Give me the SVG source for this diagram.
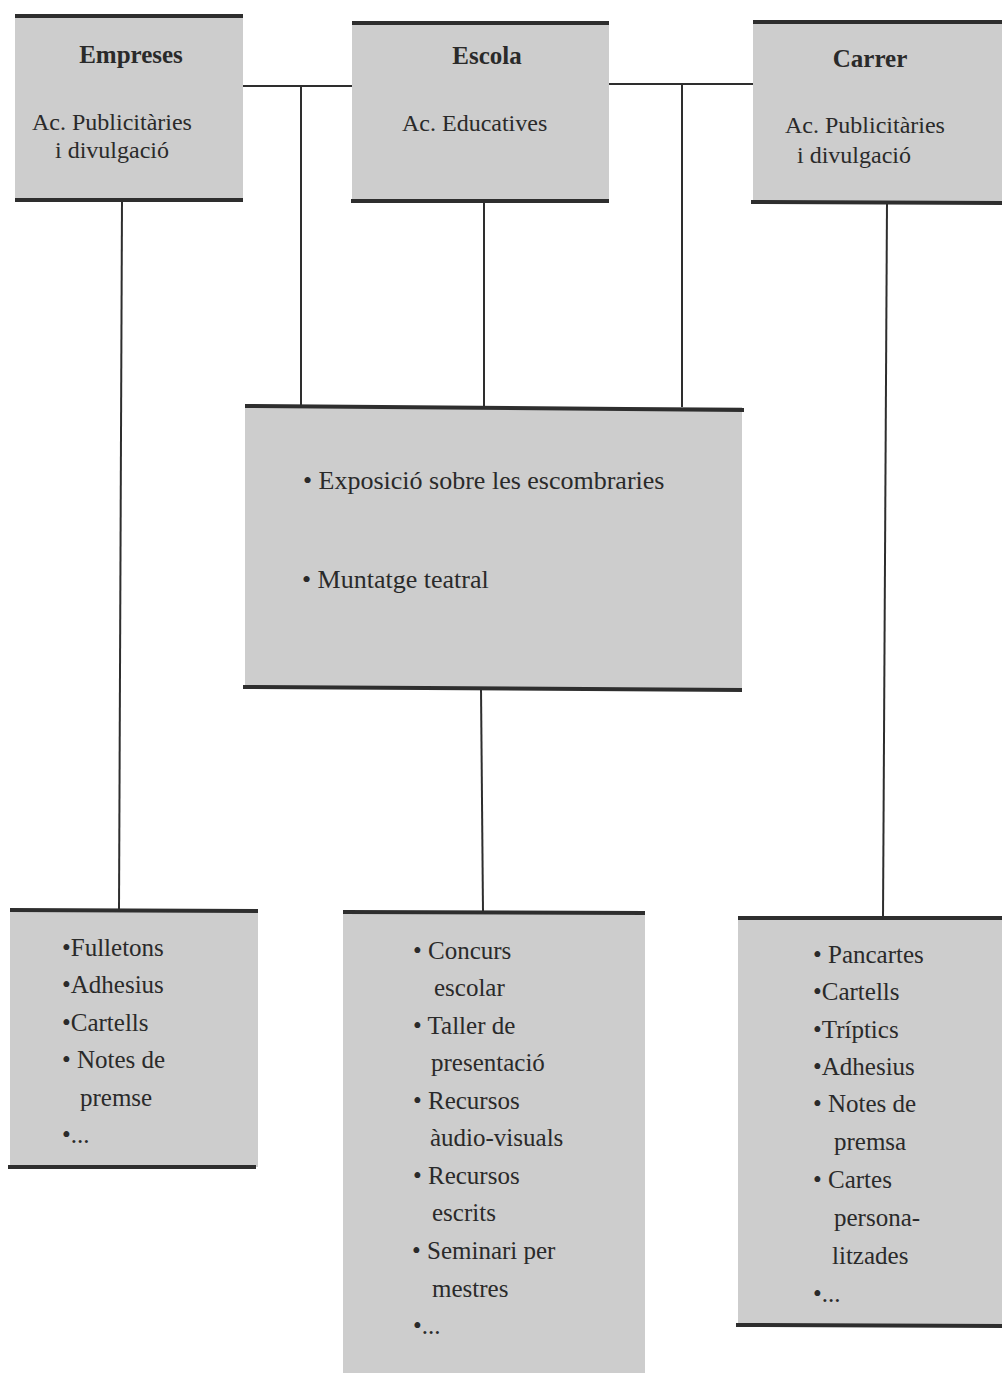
<svg xmlns="http://www.w3.org/2000/svg" width="1002" height="1373" viewBox="0 0 1002 1373">
<style>
.bg{fill:#ffffff}
.box{fill:#cdcdcd;stroke:none}
.edge{stroke:#2e2e2e;stroke-width:4;fill:none}
.conn{stroke:#2e2e2e;stroke-width:2;fill:none}
text{font-family:"Liberation Serif","Times New Roman",serif;fill:#2a2a2a}
.title{font-size:25px;font-weight:bold}
.sub{font-size:24px}
.big{font-size:26px}
.item{font-size:25px}
</style>
<rect class="bg" x="0" y="0" width="1002" height="1373"/>
<g id="connectors">
  <line class="conn" x1="243" y1="86" x2="352" y2="86"/>
  <line class="conn" x1="301" y1="86" x2="301" y2="407"/>
  <line class="conn" x1="609" y1="84" x2="753" y2="84"/>
  <line class="conn" x1="682" y1="84" x2="682" y2="409"/>
  <line class="conn" x1="484" y1="201" x2="484" y2="408"/>
  <line class="conn" x1="122" y1="200" x2="119" y2="910"/>
  <line class="conn" x1="887" y1="202" x2="883" y2="918"/>
  <line class="conn" x1="481" y1="689" x2="483" y2="912"/>
</g>
<g id="empreses">
  <rect class="box" x="15" y="16" width="228" height="184"/>
  <line class="edge" x1="15" y1="16" x2="243" y2="16"/>
  <line class="edge" x1="15" y1="200" x2="243" y2="200"/>
  <text class="title" x="131" y="63" text-anchor="middle">Empreses</text>
  <text class="sub" x="32" y="130">Ac. Publicitàries</text>
  <text class="sub" x="55" y="158">i divulgació</text>
</g>
<g id="escola">
  <rect class="box" x="352" y="23" width="257" height="178"/>
  <line class="edge" x1="352" y1="23" x2="609" y2="23"/>
  <line class="edge" x1="351" y1="201" x2="609" y2="201"/>
  <text class="title" x="487" y="64" text-anchor="middle">Escola</text>
  <text class="sub" x="402" y="131">Ac. Educatives</text>
</g>
<g id="carrer">
  <rect class="box" x="753" y="22" width="249" height="180"/>
  <line class="edge" x1="753" y1="22" x2="1002" y2="22"/>
  <line class="edge" x1="751" y1="202" x2="1002" y2="203"/>
  <text class="title" x="870" y="67" text-anchor="middle">Carrer</text>
  <text class="sub" x="785" y="133">Ac. Publicitàries</text>
  <text class="sub" x="797" y="163">i divulgació</text>
</g>
<g id="central">
  <rect class="box" x="245" y="407" width="497" height="282"/>
  <line class="edge" x1="245" y1="406" x2="744" y2="410"/>
  <line class="edge" x1="243" y1="687" x2="742" y2="690"/>
  <text class="big" x="303" y="489">• Exposició sobre les escombraries</text>
  <text class="big" x="302" y="588">• Muntatge teatral</text>
</g>
<g id="empreses-list">
  <rect class="box" x="10" y="910" width="248" height="257"/>
  <line class="edge" x1="10" y1="910" x2="258" y2="911"/>
  <line class="edge" x1="8" y1="1167" x2="256" y2="1167"/>
  <text class="item" x="62" y="956">•Fulletons</text>
  <text class="item" x="62" y="993">•Adhesius</text>
  <text class="item" x="62" y="1031">•Cartells</text>
  <text class="item" x="62" y="1068">• Notes de</text>
  <text class="item" x="80" y="1106">premse</text>
  <text class="item" x="62" y="1143">•...</text>
</g>
<g id="escola-list">
  <rect class="box" x="343" y="912" width="302" height="461"/>
  <line class="edge" x1="343" y1="912" x2="645" y2="913"/>
  <text class="item" x="413" y="959">• Concurs</text>
  <text class="item" x="434" y="996">escolar</text>
  <text class="item" x="413" y="1034">• Taller de</text>
  <text class="item" x="431" y="1071">presentació</text>
  <text class="item" x="413" y="1109">• Recursos</text>
  <text class="item" x="430" y="1146">àudio-visuals</text>
  <text class="item" x="413" y="1184">• Recursos</text>
  <text class="item" x="432" y="1221">escrits</text>
  <text class="item" x="412" y="1259">• Seminari per</text>
  <text class="item" x="432" y="1297">mestres</text>
  <text class="item" x="413" y="1334">•...</text>
</g>
<g id="carrer-list">
  <rect class="box" x="738" y="918" width="264" height="407"/>
  <line class="edge" x1="738" y1="918" x2="1002" y2="918"/>
  <line class="edge" x1="736" y1="1325" x2="1002" y2="1326"/>
  <text class="item" x="813" y="963">• Pancartes</text>
  <text class="item" x="813" y="1000">•Cartells</text>
  <text class="item" x="813" y="1038">•Tríptics</text>
  <text class="item" x="813" y="1075">•Adhesius</text>
  <text class="item" x="813" y="1112">• Notes de</text>
  <text class="item" x="834" y="1150">premsa</text>
  <text class="item" x="813" y="1188">• Cartes</text>
  <text class="item" x="834" y="1226">persona-</text>
  <text class="item" x="832" y="1264">litzades</text>
  <text class="item" x="813" y="1302">•...</text>
</g>
</svg>
